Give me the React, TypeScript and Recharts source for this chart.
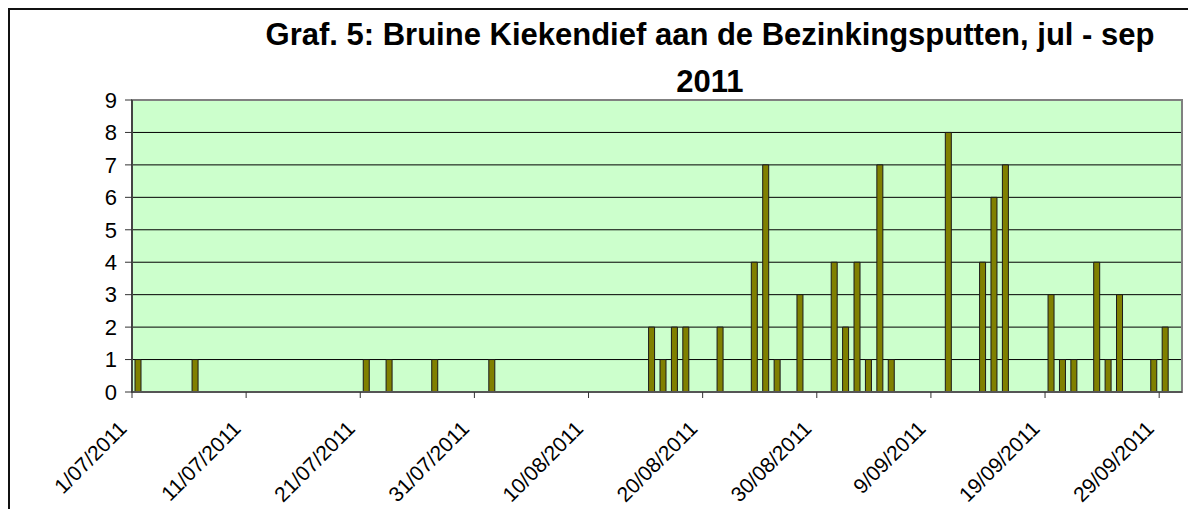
import React from "react";
import {
  BarChart,
  Bar,
  XAxis,
  YAxis,
  CartesianGrid,
  ReferenceArea,
} from "recharts";

// waarnemingen Bruine Kiekendief, jul - sep 2011
const sightingDates = [
  "1/07/2011", "6/07/2011", "21/07/2011", "23/07/2011", "27/07/2011",
  "1/08/2011", "15/08/2011", "16/08/2011", "17/08/2011", "18/08/2011",
  "21/08/2011", "24/08/2011", "25/08/2011", "26/08/2011", "28/08/2011",
  "31/08/2011", "1/09/2011", "2/09/2011", "3/09/2011", "4/09/2011",
  "5/09/2011", "10/09/2011", "13/09/2011", "14/09/2011", "15/09/2011",
  "19/09/2011", "20/09/2011", "21/09/2011", "23/09/2011", "24/09/2011",
  "25/09/2011", "28/09/2011", "29/09/2011",
];
const birdCounts = [
  1, 1, 1, 1, 1,
  1, 2, 1, 2, 2,
  2, 4, 7, 1, 3,
  4, 2, 4, 1, 7,
  1, 8, 4, 6, 7,
  3, 1, 1, 4, 1,
  3, 1, 2,
];
const axisDates = [
  "1/07/2011", "11/07/2011", "21/07/2011", "31/07/2011", "10/08/2011",
  "20/08/2011", "30/08/2011", "9/09/2011", "19/09/2011", "29/09/2011",
];
const countTicks = [0, 1, 2, 3, 4, 5, 6, 7, 8, 9];
const periodDays = 92;

const FONT = "Arial, 'Liberation Sans', sans-serif";

function dayOffset(label: string) {
  const [d, m, y] = label.split("/").map(Number);
  return Math.round((Date.UTC(y, m - 1, d) - Date.UTC(2011, 6, 1)) / 86400000);
}

// bar in het midden van de dag
const chartData = sightingDates.map((date, i) => ({
  date,
  day: dayOffset(date) + 0.5,
  count: birdCounts[i],
}));
const dateTicks = axisDates.map(dayOffset);

function DateTick(props: any) {
  const { x, y, payload } = props;
  const label = axisDates[dateTicks.indexOf(payload.value)];
  const tx = x - 4;
  const ty = y + 30;
  return (
    <text
      x={tx}
      y={ty}
      transform={`rotate(-45 ${tx} ${ty})`}
      textAnchor="end"
      fontSize={21}
      fontFamily={FONT}
      fill="#000"
    >
      {label}
    </text>
  );
}

export default function App() {
  return (
    <div
      style={{
        position: "relative",
        width: 1188,
        height: 501,
        boxSizing: "border-box",
        borderTop: "2px solid #111",
        borderLeft: "2px solid #111",
        background: "#fff",
        overflow: "hidden",
      }}
    >
      <div
        style={{
          position: "absolute",
          left: 200,
          top: 1,
          width: 1000,
          textAlign: "center",
          fontFamily: FONT,
          fontWeight: "bold",
          fontSize: 31,
          lineHeight: "47px",
          color: "#000",
          whiteSpace: "nowrap",
        }}
      >
        <div>Graf. 5: Bruine Kiekendief aan de Bezinkingsputten, jul - sep</div>
        <div>2011</div>
      </div>
      <BarChart
        width={1186}
        height={499}
        data={chartData}
        margin={{ top: 90, right: 14, bottom: 0, left: 62 }}
      >
        <CartesianGrid
          vertical={false}
          stroke="#000"
          fill="#CCFFCC"
          fillOpacity={1}
        />
        <ReferenceArea
          x1={0}
          x2={periodDays}
          y1={0}
          y2={9}
          fill="none"
          stroke="#808080"
          strokeWidth={2}
        />
        <XAxis
          type="number"
          dataKey="day"
          domain={[0, periodDays]}
          ticks={dateTicks}
          interval={0}
          allowDataOverflow
          height={117}
          tickSize={6}
          axisLine={{ stroke: "#555", strokeWidth: 2 }}
          tickLine={{ stroke: "#333" }}
          tick={<DateTick />}
        />
        <YAxis
          type="number"
          domain={[0, 9]}
          ticks={countTicks}
          interval={0}
          width={60}
          tickSize={7}
          tickMargin={8}
          axisLine={{ stroke: "#444", strokeWidth: 2 }}
          tickLine={{ stroke: "#333" }}
          tick={{ fontSize: 22, fill: "#000", fontFamily: FONT }}
        />
        <Bar
          dataKey="count"
          barSize={6}
          fill="#808000"
          stroke="#1a1a1a"
          strokeWidth={1}
          isAnimationActive={false}
        />
      </BarChart>
    </div>
  );
}
